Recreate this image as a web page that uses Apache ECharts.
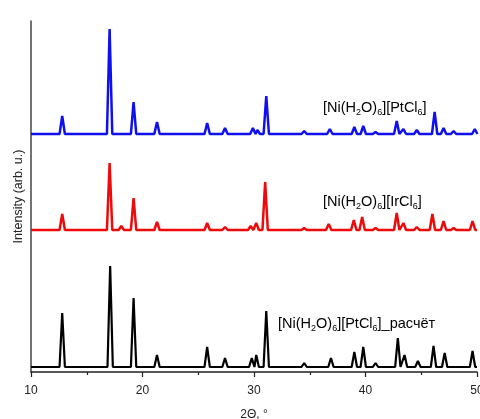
<!DOCTYPE html>
<html><head><meta charset="utf-8">
<script src="https://cdn.jsdelivr.net/npm/echarts@6/dist/echarts.min.js"></script>
<style>html,body{margin:0;padding:0;background:#fff}#c{width:480px;height:419px}</style>
</head><body><div id="c"></div>
<script>
// Peak positions (2θ, °) and heights (arb. u.)
const bluePos = [12.8, 17.05, 19.2, 21.3, 25.8, 27.4, 29.9, 30.3, 31.1, 34.5, 36.8, 39.0, 39.8, 40.9, 42.8, 43.4, 44.6, 46.2, 47.0, 47.9, 49.8];
const blueH   = [18, 105, 32, 12, 11, 6, 6, 4, 38, 3, 5, 7, 8, 2, 13, 5, 4, 22, 6, 3, 5];
const redPos  = [12.8, 17.05, 18.1, 19.2, 21.3, 25.8, 27.4, 29.7, 30.2, 31.0, 34.5, 36.7, 38.95, 39.7, 40.9, 42.8, 43.4, 44.6, 46.0, 47.0, 47.9, 49.6];
const redH    = [16, 67, 4, 32, 8, 7, 3, 4, 7, 48, 2, 6, 10, 13, 2, 17, 7, 3, 16, 9, 2, 9];
const blackPos = [12.8, 17.1, 19.2, 21.3, 25.8, 27.4, 29.8, 30.2, 31.1, 34.5, 36.9, 39.0, 39.8, 40.9, 42.9, 43.5, 44.7, 46.1, 47.1, 49.6];
const blackH   = [54, 101, 69, 12, 20, 9, 9, 12, 56, 4, 9, 15, 20, 4, 29, 12, 6, 21, 14, 16];
// vertical offsets of the stacked patterns (arb. u.)
const offsets = {blue: 238, red: 142, black: 5};
const xTicks = [10, 20, 30, 40, 50];

const HW = 0.24;
function profile(pos, h, off) {
  const pts = [[10, off]];
  for (let i = 0; i < pos.length; i++) {
    pts.push([pos[i] - HW, off]);
    pts.push([pos[i], off + h[i]]);
    pts.push([pos[i] + HW, off]);
  }
  pts.push([50, off]);
  return pts;
}

const chart = echarts.init(document.getElementById('c'), null, {renderer: 'canvas'});
const ff = 'Liberation Sans, Arial, sans-serif';
const richBase = (color, size) => ({
  n: {fontSize: size, color: color, fontFamily: ff, lineHeight: 18, verticalAlign: 'bottom'},
  s: {fontSize: Math.round(size * 0.6), color: color, fontFamily: ff, lineHeight: 18, verticalAlign: 'bottom', padding: [0, 0, -2, 0]}
});
chart.setOption({
  animation: false,
  backgroundColor: '#fff',
  grid: {left: 31, right: 3, top: 21, bottom: 47, containLabel: false, outerBoundsMode: 'none'},
  xAxis: {
    type: 'value', min: xTicks[0], max: xTicks[xTicks.length - 1], interval: 10,
    name: '2Θ, °', nameLocation: 'middle', nameGap: 37,
    nameTextStyle: {fontSize: 12, color: '#222', fontFamily: ff},
    axisLine: {lineStyle: {color: '#222', width: 1.5}},
    axisTick: {length: 5, lineStyle: {color: '#222', width: 1.2}},
    minorTick: {show: true, splitNumber: 2, length: 3, lineStyle: {color: '#222', width: 1.2}},
    axisLabel: {fontSize: 12, color: '#222', fontFamily: ff, margin: 13},
    splitLine: {show: false}
  },
  yAxis: {
    type: 'value', min: 0, max: 351,
    name: 'Intensity (arb. u.)', nameLocation: 'middle', nameGap: 6,
    nameTextStyle: {fontSize: 12.5, color: '#222', fontFamily: ff},
    axisLine: {show: true, lineStyle: {color: '#444', width: 1.5}},
    axisTick: {show: false}, axisLabel: {show: false}, splitLine: {show: false}
  },
  series: [
    {type: 'line', data: profile(bluePos, blueH, offsets.blue), showSymbol: false, lineStyle: {color: '#1010ee', width: 2.5}, z: 3},
    {type: 'line', data: profile(redPos, redH, offsets.red), showSymbol: false, lineStyle: {color: '#ee0a0a', width: 2.5}, z: 3},
    {type: 'line', data: profile(blackPos, blackH, offsets.black), showSymbol: false, lineStyle: {color: '#000', width: 2.2}, z: 3}
  ],
  graphic: [
    {type: 'text', left: 323, top: 100, z: 10, style: {text: '{n|[Ni(H}{s|2}{n|O)}{s|6}{n|][PtCl}{s|6}{n|]}', rich: richBase('#2020e0', 14.5)}},
    {type: 'text', left: 323, top: 194, z: 10, style: {text: '{n|[Ni(H}{s|2}{n|O)}{s|6}{n|][IrCl}{s|6}{n|]}', rich: richBase('#d82020', 14.5)}},
    {type: 'text', left: 278, top: 316, z: 10, style: {text: '{n|[Ni(H}{s|2}{n|O)}{s|6}{n|][PtCl}{s|6}{n|]_расчёт}', rich: richBase('#111', 14.5)}}
  ]
});
</script></body></html>
